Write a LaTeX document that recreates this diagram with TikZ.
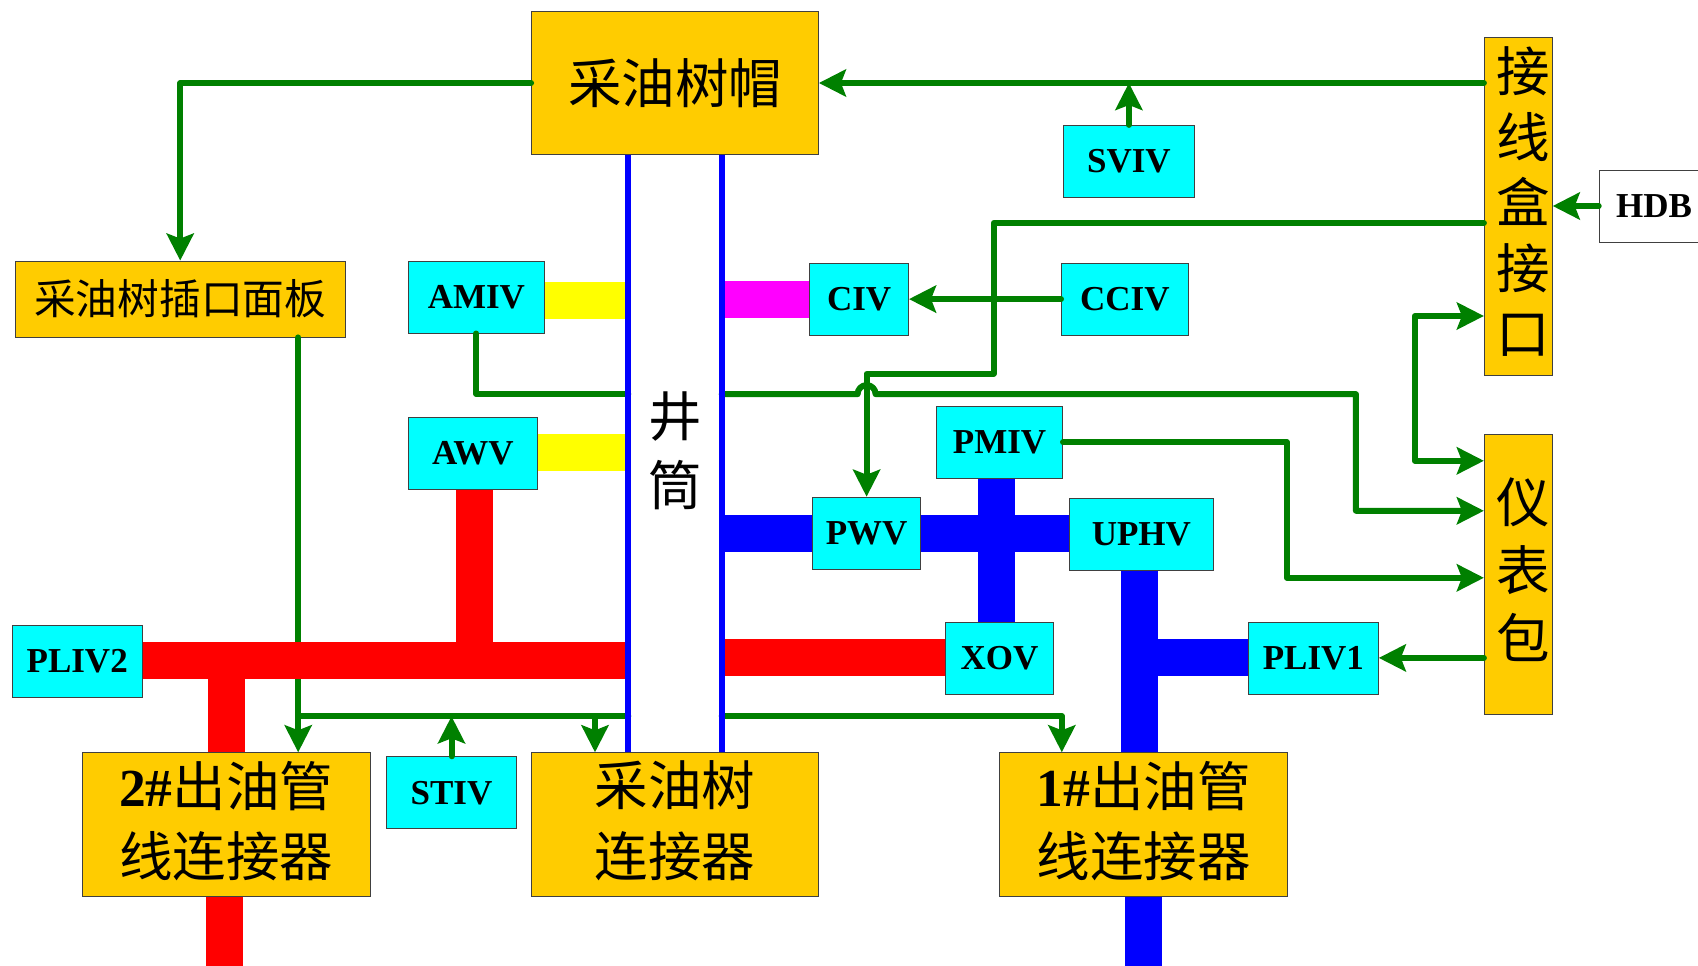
\documentclass[tikz,border=0pt]{standalone}
\usepackage{fontspec}
\setmainfont{Liberation Serif}
\newfontfamily\cjk{Noto Sans CJK SC}
\usepackage{xcolor}
\usetikzlibrary{arrows.meta, positioning}
\definecolor{sigreen}{HTML}{008000}
\definecolor{boxgold}{HTML}{FFCC00}
\definecolor{valvecyan}{HTML}{00FFFF}
\definecolor{stubyellow}{HTML}{FFFF00}
\definecolor{stubpink}{HTML}{FF00FF}

\begin{document}
\begin{tikzpicture}[
    x=1pt, y=1pt,
    box/.style={rectangle, draw=black!75, line width=0.8pt, inner sep=0pt, align=center},
    gold/.style={box, fill=boxgold, font=\cjk\fontsize{53.5}{70.5}\selectfont},
    conn/.style={gold, minimum width=288pt, minimum height=144pt, text depth=12pt},
    valve/.style={box, fill=valvecyan, minimum height=72pt, font=\bfseries\fontsize{35}{40}\selectfont},
    pipe/.style={line width=37pt},
    sig/.style={draw=sigreen, line width=6pt, line cap=round, line join=round},
    arr/.style={sig, -{Stealth[length=27pt,width=27pt,inset=5pt]}},
    darr/.style={sig, {Stealth[length=27pt,width=27pt,inset=5pt]}-{Stealth[length=27pt,width=27pt,inset=5pt]}},
]
    \useasboundingbox (0,0) rectangle (1698,-966);

    % Well column
    \node[gold, minimum width=287pt, minimum height=143pt] (cap) at (675,-83) {采油树帽};
    \node[below=0pt of cap, minimum width=93pt, minimum height=597pt, inner sep=0pt, align=center,
        text depth=9pt, font=\cjk\fontsize{53.5}{69}\selectfont] (bore) {井\\筒};
    \node[conn, below=0pt of bore, minimum width=287pt] (tree) {采油树\\连接器};

    % Outlet connectors
    \node[conn, left=160.5pt of tree] (conn2) {{\rmfamily\bfseries 2\#}出油管\\线连接器};
    \node[conn, right=180.5pt of tree] (conn1) {{\rmfamily\bfseries 1\#}出油管\\线连接器};

    % Panel, junction box and meter pack
    \node[gold, left=185.5pt of cap, yshift=-216pt, minimum width=330pt, minimum height=76pt,
        font=\cjk\fontsize{41.7}{44}\selectfont] (panel) {采油树插口面板};
    \node[gold, right=665pt of cap, yshift=-123pt, minimum width=68pt, minimum height=338pt,
        text width=63pt, align=right, text depth=273pt,
        font=\cjk\fontsize{53.5}{65.5}\selectfont] (junc) {接\\线\\盒\\接\\口};
    \node[gold, below=59pt of junc, minimum width=68pt, minimum height=280pt,
        text width=63pt, align=right, text depth=149pt,
        font=\cjk\fontsize{53.5}{67.7}\selectfont] (meter) {仪\\表\\包};
    \node[valve, right=46pt of junc, fill=white, minimum width=110pt] (hdb) {HDB};

    % Valves left of the bore
    \node[valve, left=83.5pt of bore, yshift=156.5pt, minimum width=136pt] (amiv) {AMIV};
    \node[valve, left=90.5pt of bore, minimum width=129pt] (awv) {AWV};
    \node[valve, above=55pt of conn2, xshift=-149pt, minimum width=130pt] (pliv2) {PLIV2};
    \node[valve, right=15.5pt of conn2, yshift=32pt, minimum width=130pt] (stiv) {STIV};

    % Valves right of the bore
    \node[valve, right=87.5pt of bore, yshift=154.5pt, minimum width=99pt] (civ) {CIV};
    \node[valve, right=152pt of civ, minimum width=127pt] (cciv) {CCIV};
    \node[valve, above=65pt of cciv, xshift=4pt, minimum width=131pt] (sviv) {SVIV};
    \node[valve, right=90.5pt of bore, yshift=-79.5pt, minimum width=108pt] (pwv) {PWV};
    \node[valve, above=18pt of pwv, xshift=133pt, minimum width=126pt] (pmiv) {PMIV};
    \node[valve, below=52pt of pwv, xshift=133pt, minimum width=108pt] (xov) {XOV};
    \node[valve, right=148pt of pwv, yshift=-1pt, minimum width=144pt] (uphv) {UPHV};
    \node[valve, below=51pt of uphv, xshift=172pt, minimum width=130pt] (pliv1) {PLIV1};

    % Free pipe ends and wire bends
    \coordinate (out2) at ([xshift=-2pt,yshift=-70pt]conn2.south);
    \coordinate (out1) at ([yshift=-70pt]conn1.south);
    \coordinate (busl) at ([xshift=72pt,yshift=36pt]conn2.north);
    \coordinate (wirec) at ([xshift=127pt,yshift=123pt]pwv.north);
    \coordinate (amivl) at ([yshift=59.5pt]bore.west);
    \coordinate (amivr) at ([yshift=59.5pt]bore.east);

    % Panel wire runs under the red pipe
    \draw[arr] (panel.south -| busl) -- ([xshift=72pt]conn2.north);

    % --- Red pipes ---
    \draw[pipe, red] (pliv2.east) -- (pliv2.east -| bore.west);
    \draw[pipe, red] ([xshift=2pt]awv.south) -- ([xshift=2pt]awv.south |- pliv2.east);
    \draw[pipe, red] (conn2.north |- pliv2.east) -- (conn2.north);
    \draw[pipe, red] (conn2.south -| out2) -- (out2);
    \draw[pipe, red] (xov.west) -- (xov.west -| bore.east);

    % --- Blue pipes ---
    \draw[pipe, blue] (pwv.west) -- (pwv.west -| bore.east);
    \draw[pipe, blue] (pwv.east) -- (pwv.east -| uphv.west);
    \draw[pipe, blue] ([xshift=-3pt]pmiv.south) -- ([xshift=-3pt]pmiv.south |- xov.north);
    \draw[pipe, blue] ([xshift=-2pt]uphv.south) -- ([xshift=-2pt]uphv.south |- conn1.north);
    \draw[pipe, blue] (pliv1.west) -- ([xshift=-2pt]uphv.south |- pliv1.west);
    \draw[pipe, blue] (conn1.south) -- (out1);

    % Short stubs
    \draw[pipe, stubyellow] ([yshift=-3pt]amiv.east) -- ([yshift=-3pt]amiv.east -| bore.west);
    \draw[pipe, stubyellow] ([yshift=1pt]awv.east) -- ([yshift=1pt]awv.east -| bore.west);
    \draw[pipe, stubpink] (civ.west) -- (civ.west -| bore.east);

    % --- Green wires ---
    \draw[arr] (junc.west |- cap.east) -- (cap.east);
    \draw[arr] (sviv.north) -- (sviv.north |- cap.east);
    \draw[arr] (cap.west) -| (panel.north);
    \draw[arr] ([yshift=-17pt]junc.west) -| (wirec) -| (pwv.north);
    \draw[arr] (cciv.west) -- (civ.east);
    \draw[arr] (hdb.west) -- (junc.east);
    \draw[sig] (amiv.south) |- (amivl);
    \draw[arr] (amivr) -- ([xshift=-9pt]pwv.north |- amivr) arc[start angle=180, end angle=0, radius=9pt]
        -- ([xshift=-128pt]meter.west |- amivr) |- ([yshift=64pt]meter.west);
    \draw[arr] (pmiv.east) -- ([xshift=-197pt]meter.west |- pmiv.east) |- ([yshift=-3pt]meter.west);
    \draw[darr] ([yshift=-110pt]junc.west) -- ([xshift=-69pt,yshift=-110pt]junc.west)
        |- ([yshift=114pt]meter.west);
    \draw[arr] (meter.west |- pliv1.east) -- (pliv1.east);

    % Bottom bus
    \draw[sig] (busl) -- (busl -| bore.west);
    \draw[arr] (stiv.north) -- (stiv.north |- busl);
    \draw[arr] ([xshift=-80pt]tree.north |- busl) -- ([xshift=-80pt]tree.north);
    \draw[arr] (busl -| bore.east) -- ([xshift=-82pt]conn1.north |- busl) -- ([xshift=-82pt]conn1.north);

    % Bore walls
    \draw[blue, line width=6pt] (bore.north west) -- (bore.south west);
    \draw[blue, line width=6pt] (bore.north east) -- (bore.south east);

\end{tikzpicture}
\end{document}
